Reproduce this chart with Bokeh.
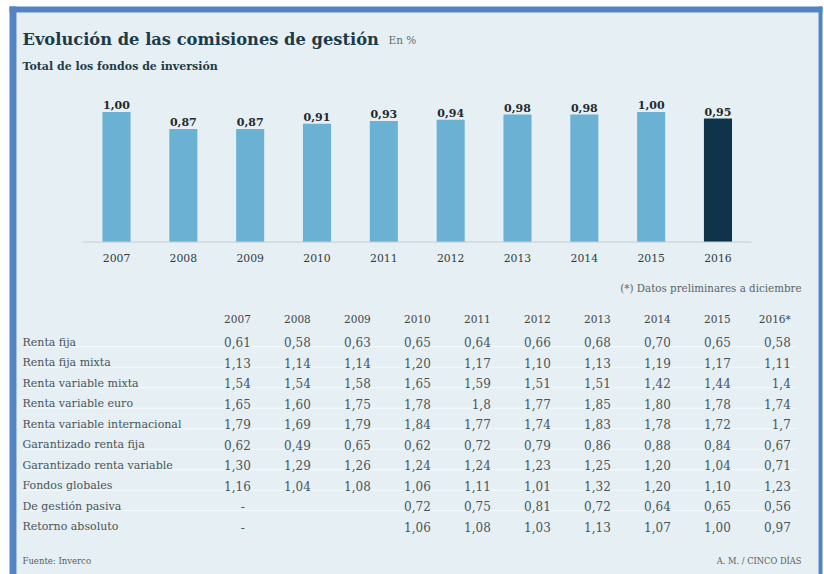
from bokeh.plotting import figure
from bokeh.models import Range1d, ColumnDataSource
from bokeh.embed import file_html
from bokeh.resources import INLINE
from bokeh.core.properties import value

# ---------------- data ----------------
years = [2007, 2008, 2009, 2010, 2011, 2012, 2013, 2014, 2015, 2016]
total_fondos = [1.00, 0.87, 0.87, 0.91, 0.93, 0.94, 0.98, 0.98, 1.00, 0.95]

table_years = ["2007", "2008", "2009", "2010", "2011", "2012", "2013", "2014", "2015", "2016*"]
row_names = [
    "Renta fija",
    "Renta fija mixta",
    "Renta variable mixta",
    "Renta variable euro",
    "Renta variable internacional",
    "Garantizado renta fija",
    "Garantizado renta variable",
    "Fondos globales",
    "De gestión pasiva",
    "Retorno absoluto",
]
renta_fija = ["0,61", "0,58", "0,63", "0,65", "0,64", "0,66", "0,68", "0,70", "0,65", "0,58"]
renta_fija_mixta = ["1,13", "1,14", "1,14", "1,20", "1,17", "1,10", "1,13", "1,19", "1,17", "1,11"]
renta_variable_mixta = ["1,54", "1,54", "1,58", "1,65", "1,59", "1,51", "1,51", "1,42", "1,44", "1,4"]
renta_variable_euro = ["1,65", "1,60", "1,75", "1,78", "1,8", "1,77", "1,85", "1,80", "1,78", "1,74"]
renta_variable_internacional = ["1,79", "1,69", "1,79", "1,84", "1,77", "1,74", "1,83", "1,78", "1,72", "1,7"]
garantizado_renta_fija = ["0,62", "0,49", "0,65", "0,62", "0,72", "0,79", "0,86", "0,88", "0,84", "0,67"]
garantizado_renta_variable = ["1,30", "1,29", "1,26", "1,24", "1,24", "1,23", "1,25", "1,20", "1,04", "0,71"]
fondos_globales = ["1,16", "1,04", "1,08", "1,06", "1,11", "1,01", "1,32", "1,20", "1,10", "1,23"]
gestion_pasiva = ["-", "", "", "0,72", "0,75", "0,81", "0,72", "0,64", "0,65", "0,56"]
retorno_absoluto = ["-", "", "", "1,06", "1,08", "1,03", "1,13", "1,07", "1,00", "0,97"]
table_rows = [renta_fija, renta_fija_mixta, renta_variable_mixta, renta_variable_euro,
              renta_variable_internacional, garantizado_renta_fija, garantizado_renta_variable,
              fondos_globales, gestion_pasiva, retorno_absoluto]

# ---------------- styles ----------------
W, H = 824, 574
SERIF = value("DejaVu Serif")
PANEL = "#e6eff3"
FRAME = "#5383c2"
BAR = "#6ab1d4"
BAR_HI = "#0f3349"
TITLE_C = "#1c3b49"
TEXT_C = "#46555c"

p = figure(width=W, height=H, x_range=Range1d(0, W), y_range=Range1d(H, 0),
           x_axis_type=None, y_axis_type=None, output_backend="svg",
           toolbar_location=None, min_border=0, outline_line_color=None,
           background_fill_color="white", border_fill_color="white")
p.grid.visible = False

# scales for bars (years / values) and table (columns / rows)
p.extra_x_ranges = {
    "yr": Range1d(2005.264, 2017.594),
    "cols": Range1d(-4.172, 9.562),
}
p.extra_y_ranges = {
    "val": Range1d(-2.558, 1.858),
    "rows": Range1d(11.341, -16.659),
}

# ---------------- frame ----------------
p.quad(left=[16], right=[818], top=[12], bottom=[H], fill_color=PANEL, line_color=None)
p.quad(left=[9], right=[16], top=[6], bottom=[H], fill_color=FRAME, line_color=None)
p.quad(left=[9], right=[822], top=[6], bottom=[12], fill_color=FRAME, line_color=None)
p.quad(left=[818], right=[822], top=[6], bottom=[H], fill_color=FRAME, line_color=None)

# ---------------- titles ----------------
p.text(x=[22], y=[39], text=["Evolución de las comisiones de gestión"],
       text_font=SERIF, text_font_style="bold", text_font_size="16.3px",
       text_color=TITLE_C, text_baseline="alphabetic")
p.text(x=[388], y=[39], text=["En %"], text_font=SERIF, text_font_size="10.5px",
       text_color="#5f6b70", text_baseline="alphabetic")
p.text(x=[22], y=[66], text=["Total de los fondos de inversión"],
       text_font=SERIF, text_font_style="bold", text_font_size="11px",
       text_color=TITLE_C, text_baseline="alphabetic")

# ---------------- bars ----------------
bar_colors = [BAR_HI if y == years[-1] else BAR for y in years]
bar_labels = [f"{v:.2f}".replace(".", ",") for v in total_fondos]
bsrc = ColumnDataSource(dict(x=years, top=total_fondos, color=bar_colors,
                             label=bar_labels, ylab=[str(y) for y in years]))
p.vbar(x="x", top="top", bottom=0, width=0.42, source=bsrc, fill_color="color",
       line_color=None, x_range_name="yr", y_range_name="val")
p.segment(x0=[years[0] - 0.5], x1=[years[-1] + 0.5], y0=[0], y1=[0],
          line_color="#c3cdd2", line_width=1, x_range_name="yr", y_range_name="val")
p.text(x="x", y="top", text="label", source=bsrc, x_range_name="yr", y_range_name="val",
       text_align="center", text_baseline="alphabetic", y_offset=-7,
       text_font=SERIF, text_font_style="bold", text_font_size="11px", text_color="#222a2e")
p.text(x="x", y=0, text="ylab", source=bsrc, x_range_name="yr", y_range_name="val",
       text_align="center", text_baseline="alphabetic", y_offset=16,
       text_font=SERIF, text_font_size="10.8px", text_color="#333b3f")

p.text(x=[801], y=[287], text=["(*) Datos preliminares a diciembre"],
       text_font=SERIF, text_font_size="10.3px", text_color="#5a6569",
       text_align="right", text_baseline="alphabetic")

# ---------------- table ----------------
ncols = len(table_years)
nrows = len(row_names)
# separators
p.segment(x0=[22] * (nrows - 1), x1=[796] * (nrows - 1),
          y0=[r + 0.23 for r in range(nrows - 1)], y1=[r + 0.23 for r in range(nrows - 1)],
          y_range_name="rows", line_color="#f6fafb", line_width=1)

hsrc = ColumnDataSource(dict(c=list(range(ncols)), r=[-1.146] * ncols, t=table_years))
p.text(x="c", y="r", text="t", source=hsrc, x_range_name="cols", y_range_name="rows",
       text_align="right", text_baseline="alphabetic",
       text_font=SERIF, text_font_size="10.5px", text_color="#3b464b")

p.text(x=[22] * nrows, y=list(range(nrows)), text=row_names, y_range_name="rows",
       text_align="left", text_baseline="alphabetic",
       text_font=SERIF, text_font_size="11px", text_color=TEXT_C)

cc, rr, tt, dc, dr = [], [], [], [], []
for r, row in enumerate(table_rows):
    for c, t in enumerate(row):
        if t == "-":
            dc.append(c); dr.append(r)
        elif t:
            cc.append(c); rr.append(r); tt.append(t)
tsrc = ColumnDataSource(dict(c=cc, r=rr, t=tt))
p.text(x="c", y="r", text="t", source=tsrc, x_range_name="cols", y_range_name="rows",
       text_align="right", text_baseline="alphabetic",
       text_font=SERIF, text_font_size="12px", text_color=TEXT_C)
p.text(x=dc, y=dr, text=["-"] * len(dc), x_range_name="cols", y_range_name="rows",
       text_align="center", text_baseline="alphabetic", x_offset=-8,
       text_font=SERIF, text_font_size="12px", text_color=TEXT_C)

# ---------------- footer ----------------
p.text(x=[22], y=[560.5], text=["Fuente: Inverco"], text_font=SERIF,
       text_font_size="8.5px", text_color="#55605f", text_baseline="alphabetic")
p.text(x=[801], y=[560.5], text=["A. M. / CINCO DÍAS"], text_font=SERIF,
       text_font_size="8.3px", text_color="#55605f", text_baseline="alphabetic",
       text_align="right")

open("out.html", "w").write(file_html(p, INLINE))
